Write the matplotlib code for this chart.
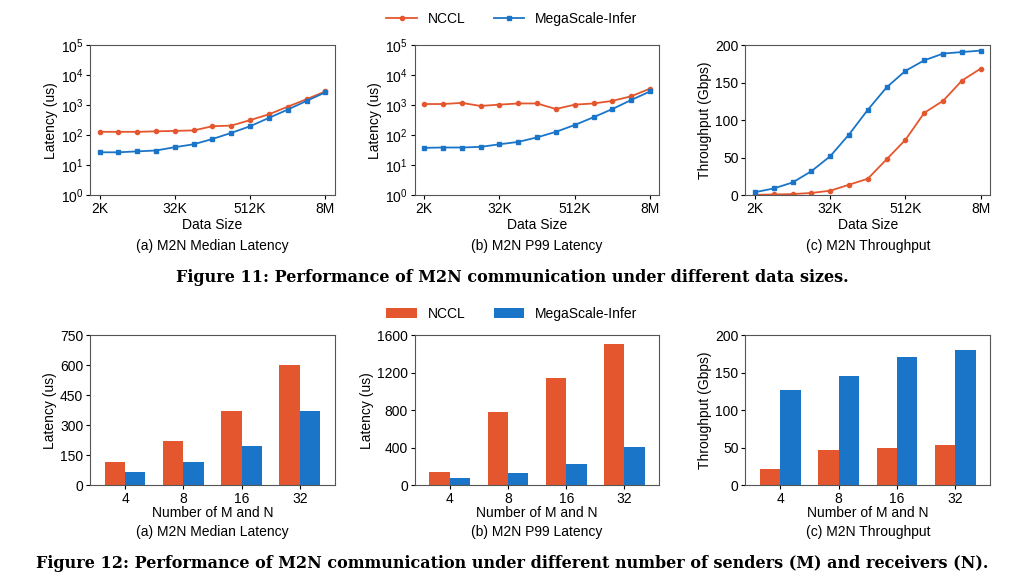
import numpy as np
import matplotlib.pyplot as plt

sizes = ['2K', '4K', '8K', '16K', '32K', '64K', '128K', '256K', '512K', '1M', '2M', '4M', '8M']
size_ticks = ['2K', '32K', '512K', '8M']

med_nccl = [130, 130, 130, 135, 140, 145, 200, 210, 320, 500, 900, 1600, 2900]
med_mega = [27, 27, 29, 31, 40, 50, 75, 120, 200, 380, 720, 1400, 2700]
p99_nccl = [1100, 1100, 1200, 950, 1050, 1150, 1150, 750, 1050, 1150, 1400, 2000, 3600]
p99_mega = [38, 39, 39, 41, 50, 60, 85, 130, 220, 400, 750, 1500, 2900]
thr_nccl = [0.5, 1, 1.5, 3, 6, 14, 22, 48, 74, 110, 126, 153, 169]
thr_mega = [4, 9, 17, 32, 52, 81, 114, 144, 166, 180, 189, 191, 193]

mn = ['4', '8', '16', '32']
bar_med_nccl = [115, 220, 370, 600]
bar_med_mega = [65, 118, 195, 370]
bar_p99_nccl = [135, 780, 1140, 1510]
bar_p99_mega = [75, 125, 230, 410]
bar_thr_nccl = [22, 47, 49, 54]
bar_thr_mega = [127, 145, 171, 180]

C_N = '#E4572E'
C_M = '#1A75C9'

plt.rcParams['font.family'] = ['Liberation Sans', 'DejaVu Sans']
plt.rcParams['font.size'] = 10

fig = plt.figure(figsize=(10.24, 5.81), dpi=100)

lefts = [0.088, 0.405, 0.728]
W, H = 0.239, 0.258


def style(ax):
    for s in ax.spines.values():
        s.set_color('#555555')
    ax.tick_params(direction='out', length=3, labelsize=10, pad=2)


x = np.arange(len(sizes))
top = [(med_nccl, med_mega, 'Latency (us)', '(a) M2N Median Latency', True),
       (p99_nccl, p99_mega, 'Latency (us)', '(b) M2N P99 Latency', True),
       (thr_nccl, thr_mega, 'Throughput (Gbps)', '(c) M2N Throughput', False)]
for i, (yn, ym, yl, cap, logy) in enumerate(top):
    ax = fig.add_axes([lefts[i], 0.664, W, H])
    l1, = ax.plot(x, yn, color=C_N, marker='o', ms=3, lw=1.3, label='NCCL')
    l2, = ax.plot(x, ym, color=C_M, marker='s', ms=3, lw=1.3, label='MegaScale-Infer')
    if logy:
        ax.set_yscale('log')
        ax.set_ylim(1, 1e5)
        ax.set_yticks([1, 10, 100, 1e3, 1e4, 1e5])
        ax.minorticks_off()
    else:
        ax.set_ylim(0, 200)
        ax.set_yticks([0, 50, 100, 150, 200])
    ax.set_xlim(-0.5, 12.5)
    ax.set_xticks([0, 4, 8, 12])
    ax.set_xticklabels(size_ticks)
    ax.set_xlabel('Data Size', labelpad=1)
    ax.set_ylabel(yl, labelpad=2)
    style(ax)
    ax.text(0.5, -0.29, cap, transform=ax.transAxes, ha='center', va='top', fontsize=10)
fig.legend([l1, l2], ['NCCL', 'MegaScale-Infer'], loc='center', bbox_to_anchor=(0.5, 0.968),
           ncol=2, frameon=False, fontsize=10, handlelength=2.2, columnspacing=2)

fig.text(0.5, 0.523, 'Figure 11: Performance of M2N communication under different data sizes.',
         ha='center', va='center', fontsize=11.5, fontweight='bold', family='DejaVu Serif')

xb = np.arange(len(mn))
bw = 0.35
bottom = [(bar_med_nccl, bar_med_mega, 'Latency (us)', '(a) M2N Median Latency', 750, [0, 150, 300, 450, 600, 750]),
          (bar_p99_nccl, bar_p99_mega, 'Latency (us)', '(b) M2N P99 Latency', 1600, [0, 400, 800, 1200, 1600]),
          (bar_thr_nccl, bar_thr_mega, 'Throughput (Gbps)', '(c) M2N Throughput', 200, [0, 50, 100, 150, 200])]
for i, (yn, ym, yl, cap, ymax, yt) in enumerate(bottom):
    ax = fig.add_axes([lefts[i], 0.165, W, H])
    b1 = ax.bar(xb - bw / 2, yn, bw, color=C_N, label='NCCL')
    b2 = ax.bar(xb + bw / 2, ym, bw, color=C_M, label='MegaScale-Infer')
    ax.set_ylim(0, ymax)
    ax.set_yticks(yt)
    ax.set_xlim(-0.6, 3.6)
    ax.set_xticks(xb)
    ax.set_xticklabels(mn)
    ax.set_xlabel('Number of M and N', labelpad=0)
    ax.set_ylabel(yl, labelpad=2)
    style(ax)
    ax.text(0.5, -0.265, cap, transform=ax.transAxes, ha='center', va='top', fontsize=10)
fig.legend([b1, b2], ['NCCL', 'MegaScale-Infer'], loc='center', bbox_to_anchor=(0.5, 0.46),
           ncol=2, frameon=False, fontsize=10, handlelength=2.2, columnspacing=2)

fig.text(0.5, 0.03, 'Figure 12: Performance of M2N communication under different number of senders (M) and receivers (N).',
         ha='center', va='center', fontsize=11.5, fontweight='bold', family='DejaVu Serif')

fig.savefig('out.png', dpi=100)
